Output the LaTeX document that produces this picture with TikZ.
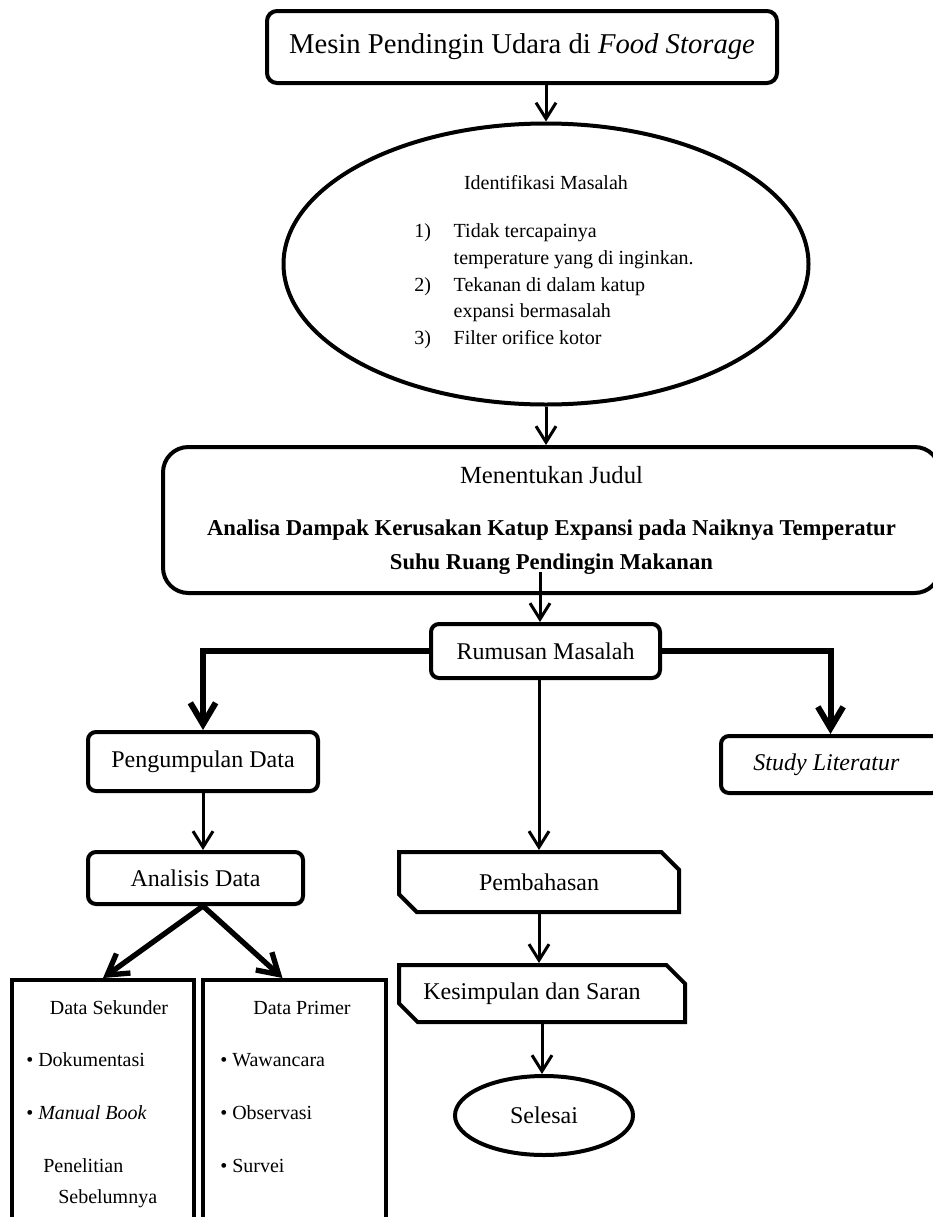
\documentclass[tikz,border=0pt]{standalone}
\usepackage{fontspec}
\setmainfont{Liberation Serif}
\usetikzlibrary{arrows.meta,shapes.geometric,shapes.misc}
\tikzset{
  arrow/.style={-{Straight Barb[length=12pt,width=15pt]},line width=2.25pt},
  heavyarrow/.style={-{Straight Barb[length=16pt,width=19pt]},line width=4.5pt},
  splitarrow/.style={-{Straight Barb[length=15pt,width=18pt]},line width=4pt},
  stagebox/.style={draw,line width=3pt,rounded corners=6pt,inner sep=0pt,
    align=center,font=\fontsize{18}{22}\selectfont},
  chambox/.style={draw,line width=3pt,chamfered rectangle,
    chamfered rectangle corners={north east,south west},
    chamfered rectangle xsep=7pt,chamfered rectangle ysep=7pt,inner sep=0pt,
    font=\fontsize{18}{22}\selectfont},
  problem/.style={ellipse,draw,line width=3pt,inner sep=0pt,align=center,
    font=\fontsize{15}{20}\selectfont},
  column/.style={draw,line width=3pt,inner sep=0pt},
  item/.style={anchor=base west,inner sep=0pt,font=\fontsize{15}{18}\selectfont}
}
\begin{document}
\begin{tikzpicture}[x=0.75pt,y=-0.75pt]
  \useasboundingbox[fill=white] (0,0) rectangle (932,1217);

  % top of the flow
  \node[stagebox,rounded corners=7.5pt,minimum width=382.5pt,minimum height=54pt,
    font=\fontsize{21.5}{26}\selectfont] (top) at (522,47)
    {Mesin Pendingin Udara di \textit{Food Storage}};
  \node[problem,minimum width=393.75pt,minimum height=210.75pt] (ident) at (546,264)
    {Identifikasi Masalah\\[16pt]
     \hspace*{12pt}\begin{tabular}[t]{@{}l@{\hspace{17pt}}l@{}}
       1) & Tidak tercapainya\\
          & temperature yang di inginkan.\\
       2) & Tekanan di dalam katup\\
          & expansi bermasalah\\
       3) & Filter orifice kotor
     \end{tabular}};
  \node[stagebox,rounded corners=19pt,minimum width=582.75pt,minimum height=109.5pt,
    font=\fontsize{17}{25.5}\selectfont\bfseries] (judul) at (551.5,520)
    {{\mdseries\fontsize{18.5}{25.5}\selectfont Menentukan Judul}\\[13.5pt]
     Analisa Dampak Kerusakan Katup Expansi pada Naiknya Temperatur\\
     Suhu Ruang Pendingin Makanan};
  \draw[arrow] (top.south -| ident.north) -- (ident.north);
  \draw[arrow] (ident.south) -- (ident.south |- judul.north);

  % branches
  \node[stagebox,minimum width=171.75pt,minimum height=40.5pt] (rumus) at (545.5,651)
    {Rumusan Masalah};
  \node[stagebox,minimum width=172.5pt,minimum height=44.25pt] (peng) at (203,761.5)
    {Pengumpulan Data};
  \node[stagebox,minimum width=164.25pt,minimum height=42.75pt] (study) at (830.5,764.5)
    {\textit{Study Literatur}\hspace*{6pt}};
  \coordinate (jtail) at (540,572);
  \draw[arrow] (jtail) -- (jtail |- rumus.north);
  \draw[heavyarrow] (rumus.west) -| (peng.north);
  \draw[heavyarrow] (rumus.east) -| (study.north);

  % left column
  \node[stagebox,minimum width=161.25pt,minimum height=39pt] (anal) at (195.5,878)
    {Analisis Data};
  \node[column,minimum width=136.5pt,minimum height=240pt] (sek) at (103,1140) {};
  \node[column,minimum width=137.25pt,minimum height=240pt] (prim) at (294.5,1140) {};
  \draw[arrow] (peng.south) -- (peng.south |- anal.north);
  \draw[splitarrow] (anal.south -| peng.south) -- (sek.north);
  \draw[splitarrow] (anal.south -| peng.south) -- ([xshift=-9pt]prim.north);
  \node[item,anchor=base] (sekhead) at (109,1014) {Data Sekunder};
  \node[item] (sek1) at (26,1066) {\textbullet{} Dokumentasi};
  \node[item] (sek2) at (26,1119) {\textbullet{} \textit{Manual Book}};
  \node[item] (sek3) at (43,1172) {Penelitian};
  \node[item] (sek4) at (58,1203) {Sebelumnya};
  \node[item,anchor=base] (primhead) at (302,1014) {Data Primer};
  \node[item] (prim1) at (220,1066) {\textbullet{} Wawancara};
  \node[item] (prim2) at (220,1119) {\textbullet{} Observasi};
  \node[item] (prim3) at (220,1172) {\textbullet{} Survei};

  % middle column
  \node[chambox,minimum width=210pt,minimum height=45pt] (pemb) at (539,882)
    {Pembahasan};
  \node[chambox,minimum width=214.5pt,minimum height=42.75pt] (kesim) at (542,993.5)
    {Kesimpulan dan Saran\hspace*{15pt}};
  \node[ellipse,draw,line width=3pt,inner sep=0pt,minimum width=133.5pt,
    minimum height=59.25pt,font=\fontsize{18}{22}\selectfont] (sel) at (544,1115.5)
    {Selesai};
  \draw[arrow] (pemb.north |- rumus.south) -- (pemb.north);
  \draw[arrow] (pemb.south) -- (pemb.south |- kesim.north);
  \draw[arrow] (kesim.south) -- (kesim.south |- sel.north);
\end{tikzpicture}
\end{document}
